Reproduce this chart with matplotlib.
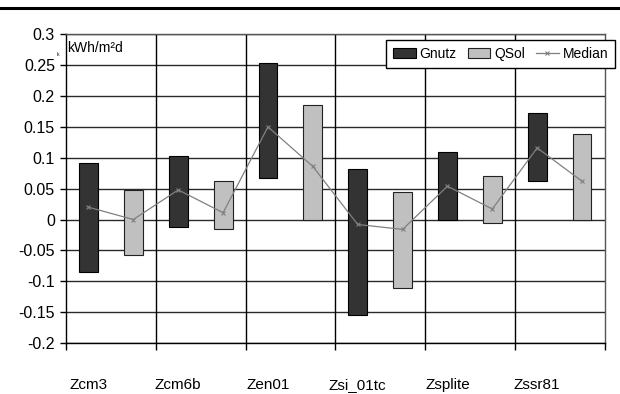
import numpy as np
import matplotlib.pyplot as plt
from matplotlib.lines import Line2D
from matplotlib.ticker import FuncFormatter, FixedLocator

plt.rcParams['font.family'] = ['Liberation Sans', 'DejaVu Sans']

CATEGORIES = ['Zcm3', 'Zcm6b', 'Zen01', 'Zsi_01tc', 'Zsplite', 'Zssr81']

# floating bars: low / high per category
GNUTZ_LOW = [-0.085, -0.012, 0.068, -0.155, 0.000, 0.062]
GNUTZ_HIGH = [0.091, 0.103, 0.254, 0.082, 0.110, 0.172]
QSOL_LOW = [-0.058, -0.015, 0.000, -0.111, -0.006, 0.000]
QSOL_HIGH = [0.047, 0.063, 0.186, 0.044, 0.070, 0.138]

# median, one value per bar (Gnutz, QSol, Gnutz, QSol, ...)
MEDIAN = [0.020, 0.000, 0.048, 0.011, 0.150, 0.086,
          -0.008, -0.016, 0.054, 0.017, 0.116, 0.062]

YTICKS = [-0.2, -0.15, -0.1, -0.05, 0, 0.05, 0.1, 0.15, 0.2, 0.25, 0.3]

fig = plt.figure(figsize=(6.2, 3.94), dpi=100)
ax = fig.add_axes([0.1065, 0.1294, 0.975 - 0.1065, 0.913 - 0.1294])

n = len(CATEGORIES)
xg = np.arange(n) * 2
xq = xg + 1
w = 0.42

gl = np.array(GNUTZ_LOW)
gh = np.array(GNUTZ_HIGH)
ql = np.array(QSOL_LOW)
qh = np.array(QSOL_HIGH)

b1 = ax.bar(xg, gh - gl, bottom=gl, width=w, color='#333333',
            edgecolor='black', linewidth=0.8, label='Gnutz', zorder=3)
b2 = ax.bar(xq, qh - ql, bottom=ql, width=w, color='#c0c0c0',
            edgecolor='#222222', linewidth=0.8, label='QSol', zorder=3)
l1, = ax.plot(np.arange(2 * n), MEDIAN, color='#808080', linewidth=0.9,
              marker='x', markersize=3.5, markeredgewidth=0.8,
              label='Median', zorder=4)

ax.set_xlim(-0.5, 2 * n - 0.5)
ax.set_ylim(-0.2, 0.3)

ax.set_yticks(YTICKS)
ax.yaxis.set_major_formatter(FuncFormatter(lambda v, p: '%g' % round(v, 3) if abs(v) > 1e-9 else '0'))
ax.tick_params(axis='y', length=4, width=1, pad=4, labelsize=11.5, direction='out')
ax.yaxis.grid(True, color='#2a2a2a', linewidth=1)

ax.set_xticks(xg)
ax.set_xticklabels(CATEGORIES)
ax.tick_params(axis='x', which='major', length=0, pad=25, labelsize=11)
ax.xaxis.set_minor_locator(FixedLocator(np.arange(-0.5, 2 * n, 2)))
ax.tick_params(axis='x', which='minor', length=5, width=1, direction='out')
for xb in np.arange(1.5, 2 * n - 1, 2):
    ax.axvline(xb, color='black', linewidth=1, zorder=1)
ax.set_axisbelow(True)

for s in ['left', 'bottom']:
    ax.spines[s].set_color('black')
    ax.spines[s].set_linewidth(1)
for s in ['right', 'top']:
    ax.spines[s].set_color('#555555')
    ax.spines[s].set_linewidth(1)

leg = ax.legend([b1, b2, l1], ['Gnutz', 'QSol', 'Median'],
                loc='upper right', bbox_to_anchor=(1.02, 0.981), ncol=3,
                fontsize=10, frameon=True, fancybox=False, framealpha=1,
                edgecolor='black', handlelength=1.6, handletextpad=0.3,
                columnspacing=0.8, borderpad=0.5, borderaxespad=0)
leg.get_frame().set_linewidth(1)

fig.text(67 / 620, 1 - 48 / 394, 'kWh/m²d', fontsize=10, va='center', ha='left')
fig.text(58 / 620, 1 - 54 / 394, 'k', fontsize=3.5, va='center', ha='center')

fig.add_artist(Line2D([0, 1], [1 - 8 / 394, 1 - 8 / 394], color='black',
                      linewidth=2.2, transform=fig.transFigure))

fig.savefig('out.png', dpi=100)
